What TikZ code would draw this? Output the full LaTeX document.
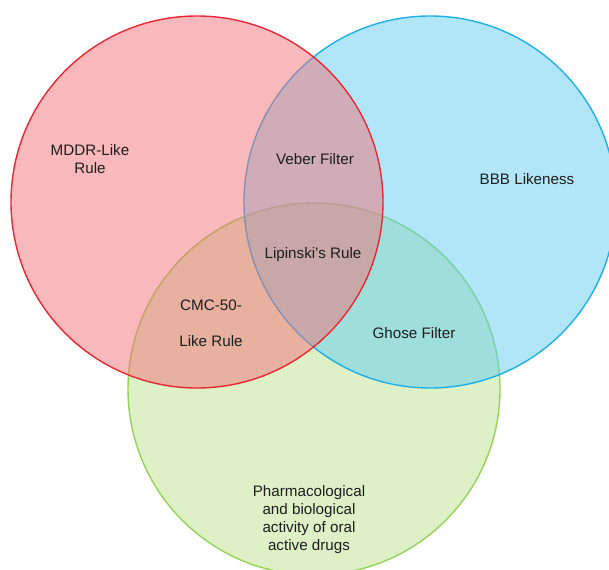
\documentclass[tikz,border=0pt]{standalone}
\usepackage{fontspec}
\setmainfont{Liberation Sans}
\definecolor{redfill}{RGB}{241,113,121}
\definecolor{redline}{RGB}{232,40,52}
\definecolor{bluefill}{RGB}{97,205,241}
\definecolor{blueline}{RGB}{30,176,232}
\definecolor{greenfill}{RGB}{187,225,141}
\definecolor{greenline}{RGB}{150,210,90}
\definecolor{txt}{RGB}{30,30,30}
\begin{document}
\begin{tikzpicture}[x=1pt,y=-1pt,
  setcircle/.style={line width=1.4pt, fill opacity=0.5, draw opacity=1},
  lbl/.style={font=\fontsize{15.2}{18}\selectfont, text=txt, align=center, inner sep=0pt}]
\useasboundingbox (0,0) rectangle (609,569);
\begin{scope}
\clip (0,0) rectangle (609,569);
\path[setcircle, draw=greenline, fill=greenfill] (314,389) circle[radius=186];
\path[setcircle, draw=blueline, fill=bluefill] (430,202) circle[radius=186];
\path[setcircle, draw=redline, fill=redfill] (197,202) circle[radius=186];
\end{scope}
\node[lbl] (mddr) at (90,159) {MDDR-Like\\Rule};
\node[lbl] (veber) at (315,159) {Veber Filter};
\node[lbl] (bbb) at (527,179) {BBB Likeness};
\node[lbl] (lip) at (313,255) {Lipinski's Rule};
\node[lbl, font=\fontsize{15.2}{36}\selectfont] (cmc) at (211,323) {CMC-50-\\Like Rule};
\node[lbl] (ghose) at (414,333) {Ghose Filter};
\node[lbl] (pharm) at (309,520) {Pharmacological\\and biological\\activity of oral\\active drugs};
\end{tikzpicture}
\end{document}
